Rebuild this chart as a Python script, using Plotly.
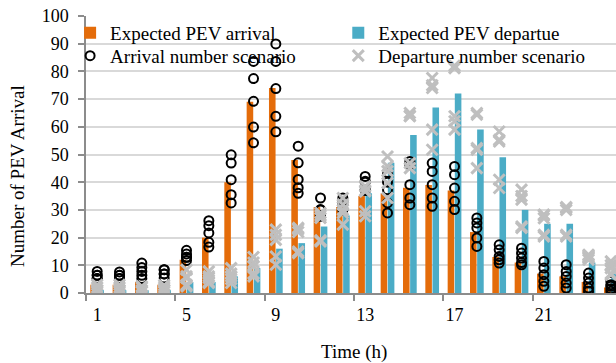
import plotly.graph_objects as go

hours = list(range(1, 25))

expected_arrival = [3, 3, 4, 3, 12, 20, 40, 69, 74, 48, 31, 31, 35, 36, 38, 39, 37, 22, 13, 11, 7, 6, 4, 2]
expected_departure = [1, 1, 1, 1, 4, 4, 6, 9, 16, 18, 24, 28, 36, 47, 57, 67, 72, 59, 49, 30, 25, 25, 11, 7]

arrival_scenarios = [
    [7.8, 6.4, 5.2, 5.2, 6.4],
    [7.6, 6.4, 5.2, 6.4, 5.2],
    [10.8, 9.2, 7.8, 6.4, 5.2],
    [8.4, 6.9, 5.4, 6.9, 8.4],
    [15.4, 14.1, 12.9, 11.7, 12.9],
    [26.1, 24.3, 21.7, 18.3, 16.6],
    [49.9, 46.9, 40.9, 35.5, 32.5],
    [83.6, 77.4, 69.2, 59.9, 54.2],
    [89.9, 83.6, 73.8, 63.8, 58.2],
    [53.0, 47.0, 41.0, 38.0, 36.0],
    [34.3, 30.1, 27.7, 30.0, 28.0],
    [34.3, 33.0, 32.0, 30.5, 30.0],
    [42.1, 40.3, 37.3, 37.0, 40.0],
    [43.5, 40.0, 37.3, 32.5, 28.9],
    [47.5, 46.3, 39.1, 34.3, 31.9],
    [46.9, 43.9, 39.1, 34.3, 31.3],
    [45.7, 42.7, 37.9, 33.1, 30.1],
    [27.1, 25.3, 23.5, 19.9, 16.8],
    [17.4, 15.6, 13.2, 10.8, 12.0],
    [16.2, 14.4, 12.6, 10.2, 11.0],
    [11.4, 9.0, 6.6, 4.2, 2.4],
    [10.2, 7.8, 6.0, 3.6, 1.8],
    [7.2, 5.4, 3.6, 1.8, 0.6],
    [4.2, 2.4, 0.6, 1.5, 3.0],
]

departure_scenarios = [
    [3.0, 1.0, 0.5, 2.0, 1.0],
    [3.0, 1.0, 0.5, 2.0, 1.0],
    [2.4, 0.6, 1.0, 2.0, 0.5],
    [2.8, 1.2, 0.5, 2.0, 1.0],
    [8.4, 5.4, 2.4, 3.0, 6.0],
    [7.8, 5.4, 3.6, 4.0, 6.0],
    [9.0, 6.0, 3.6, 5.0, 7.0],
    [13.0, 9.6, 6.0, 7.0, 11.0],
    [22.9, 19.2, 13.2, 10.2, 21.0],
    [23.5, 14.4, 22.0, 15.0, 23.0],
    [28.9, 27.1, 18.6, 28.0, 19.0],
    [34.3, 31.9, 28.9, 24.7, 30.0],
    [38.5, 36.7, 29.5, 27.7, 37.0],
    [49.3, 45.7, 39.7, 34.3, 44.0],
    [65.0, 63.8, 46.9, 45.1, 64.0],
    [77.6, 74.0, 59.0, 51.7, 75.0],
    [81.2, 82.0, 63.8, 59.0, 62.0],
    [65.0, 64.4, 51.7, 45.1, 52.3],
    [58.3, 54.7, 40.9, 37.9, 55.3],
    [37.3, 33.7, 23.5, 35.0, 24.0],
    [28.3, 20.4, 27.0, 21.0, 28.0],
    [30.7, 20.4, 30.0, 21.0, 31.0],
    [13.8, 12.6, 13.0, 12.0, 13.5],
    [11.4, 9.0, 6.6, 10.0, 7.0],
]

x_tick_vals = [1, 5, 9, 13, 17, 21]
y_tick_vals = [0, 10, 20, 30, 40, 50, 60, 70, 80, 90, 100]

ORANGE = "#E46C0A"
TEAL = "#4BACC6"
GRAY_X = "#BFBFBF"
FONT = "Liberation Serif"

arr_x = [h for h, vals in zip(hours, arrival_scenarios) for _ in vals]
arr_y = [v for vals in arrival_scenarios for v in vals]
dep_x = [h for h, vals in zip(hours, departure_scenarios) for _ in vals]
dep_y = [v for vals in departure_scenarios for v in vals]

fig = go.Figure()
fig.add_trace(go.Bar(x=hours, y=expected_arrival, name="Expected PEV arrival",
                     marker=dict(color=ORANGE, line=dict(width=0)), legend="legend"))
fig.add_trace(go.Bar(x=hours, y=expected_departure, name="Expected PEV departue",
                     marker=dict(color=TEAL, line=dict(width=0)), legend="legend2"))
fig.add_trace(go.Scatter(x=arr_x, y=arr_y, mode="markers", name="Arrival number scenario",
                         marker=dict(symbol="circle-open", size=9, color="black",
                                     line=dict(width=2, color="black")), legend="legend3"))
fig.add_trace(go.Scatter(x=dep_x, y=dep_y, mode="markers", name="Departure number scenario",
                         marker=dict(symbol="x-thin", size=11, color=GRAY_X,
                                     line=dict(width=3, color=GRAY_X)), legend="legend4"))

legend_common = dict(orientation="v", yanchor="top", xanchor="left",
                     bgcolor="rgba(0,0,0,0)", font=dict(family=FONT, size=19))

fig.update_layout(
    width=616, height=363,
    margin=dict(l=86, r=0, t=16, b=70),
    paper_bgcolor="white", plot_bgcolor="white",
    font=dict(family=FONT, size=18, color="black"),
    barmode="group", bargap=0.36, bargroupgap=0.08,
    showlegend=True,
    legend=dict(x=-0.03, y=1.008, **legend_common),
    legend2=dict(x=0.476, y=1.008, **legend_common),
    legend3=dict(x=-0.03, y=0.925, **legend_common),
    legend4=dict(x=0.476, y=0.925, **legend_common),
    xaxis=dict(range=[0.5, 24.23], tickmode="array", tickvals=x_tick_vals,
               ticktext=[str(v) for v in x_tick_vals],
               ticks="outside", ticklen=5, tickcolor="rgba(0,0,0,0)",
               showgrid=False, showline=True, linecolor="#8C8C8C", linewidth=1.5,
               zeroline=False,
               minor=dict(tickmode="linear", tick0=0.5, dtick=4, ticks="outside",
                          ticklen=6, tickcolor="#8C8C8C", tickwidth=1.5, showgrid=False),
               tickfont=dict(family=FONT, size=18)),
    yaxis=dict(range=[0, 100], tickmode="array", tickvals=y_tick_vals,
               ticks="outside", ticklen=6, tickcolor="#8C8C8C", tickwidth=1.5,
               showgrid=True, gridcolor="#D9D9D9", gridwidth=1.5,
               showline=True, linecolor="#8C8C8C", linewidth=1.5, zeroline=False,
               ticklabelstandoff=6,
               tickfont=dict(family=FONT, size=18)),
    annotations=[
        dict(text="Number of PEV Arrival", textangle=-90, xref="paper", yref="paper",
             x=-0.128, y=0.423, xanchor="center", yanchor="middle", showarrow=False,
             font=dict(family=FONT, size=19)),
        dict(text="Time (h)", xref="paper", yref="paper", x=0.506, y=-0.212,
             xanchor="center", yanchor="middle", showarrow=False,
             font=dict(family=FONT, size=19)),
    ],
)

fig.write_html("out.html")
